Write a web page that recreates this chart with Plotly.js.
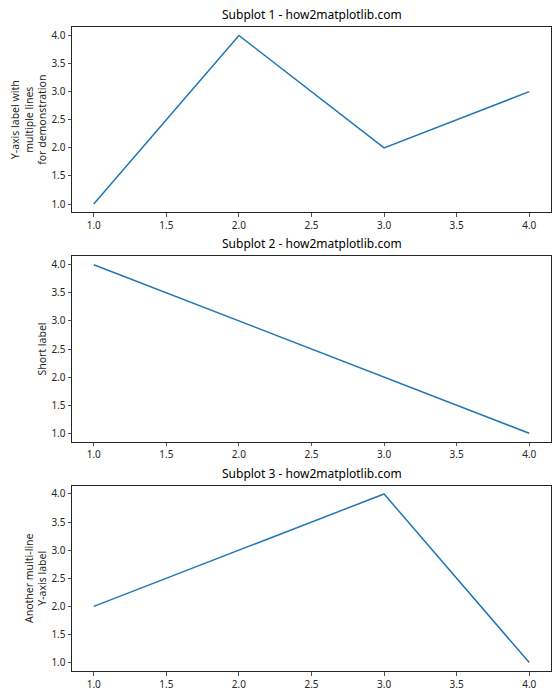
<!DOCTYPE html>
<html><head><meta charset="utf-8">
<script src="https://cdn.plot.ly/plotly-3.0.1.min.js"></script>
<style>body{margin:0;padding:0;background:#fff}#chart{width:560px;height:700px}</style>
</head><body><div id="chart"></div>
<script>
const xValues = [1, 2, 3, 4];
const series1 = [1, 4, 2, 3];
const series2 = [4, 3, 2, 1];
const series3 = [2, 3, 4, 1];
const titles = ["Subplot 1 - how2matplotlib.com", "Subplot 2 - how2matplotlib.com", "Subplot 3 - how2matplotlib.com"];
const yLabels = ["Y-axis label with<br>multiple lines<br>for demonstration", "Short label", "Another multi-line<br>Y-axis label"];

const FONT = "Noto Sans, Open Sans, DejaVu Sans, sans-serif";
const lineColor = "#1f77b4";
const domains = [[0.712, 1], [0.356, 0.644], [0, 0.288]];
const allSeries = [series1, series2, series3];

const traces = allSeries.map((s, i) => ({
  x: xValues, y: s, type: "scatter", mode: "lines",
  line: {color: lineColor, width: 1.5},
  xaxis: i === 0 ? "x" : "x" + (i + 1),
  yaxis: i === 0 ? "y" : "y" + (i + 1),
  showlegend: false, hoverinfo: "skip"
}));

function xAxis(i) {
  return {
    domain: [0, 1], anchor: i === 0 ? "y" : "y" + (i + 1),
    range: [0.85, 4.15], tickmode: "linear", tick0: 1, dtick: 0.5, tickformat: ".1f",
    showgrid: false, zeroline: false, showline: true, mirror: true,
    linecolor: "#262626", linewidth: 1, ticks: "outside", ticklen: 3.5, tickwidth: 0.8, tickcolor: "#262626",
    tickfont: {family: FONT, size: 10, color: "#262626"}, fixedrange: true
  };
}
function yAxis(i) {
  return {
    domain: domains[i], anchor: i === 0 ? "x" : "x" + (i + 1),
    range: [0.85, 4.15], tickmode: "linear", tick0: 1, dtick: 0.5, tickformat: ".1f",
    showgrid: false, zeroline: false, showline: true, mirror: true,
    linecolor: "#262626", linewidth: 1, ticks: "outside", ticklen: 3.5, tickwidth: 0.8, tickcolor: "#262626",
    tickfont: {family: FONT, size: 10, color: "#262626"},
    title: {text: yLabels[i], font: {family: FONT, size: 10.5, color: "#262626"}, standoff: 2},
    fixedrange: true
  };
}

const layout = {
  width: 560, height: 700,
  margin: {l: 72, r: 9, t: 27, b: 29},
  paper_bgcolor: "#ffffff", plot_bgcolor: "#ffffff",
  font: {family: FONT, color: "#262626"},
  annotations: titles.map((t, i) => ({
    text: t, xref: "paper", yref: "paper", x: 0.5, y: domains[i][1],
    xanchor: "center", yanchor: "bottom", yshift: 2, showarrow: false,
    font: {family: FONT, size: 12, color: "#000000"}
  }))
};
[0, 1, 2].forEach(i => {
  const sfx = i === 0 ? "" : String(i + 1);
  layout["xaxis" + sfx] = xAxis(i);
  layout["yaxis" + sfx] = yAxis(i);
});

Plotly.newPlot("chart", traces, layout, {staticPlot: true, displayModeBar: false});
</script>
</body></html>
